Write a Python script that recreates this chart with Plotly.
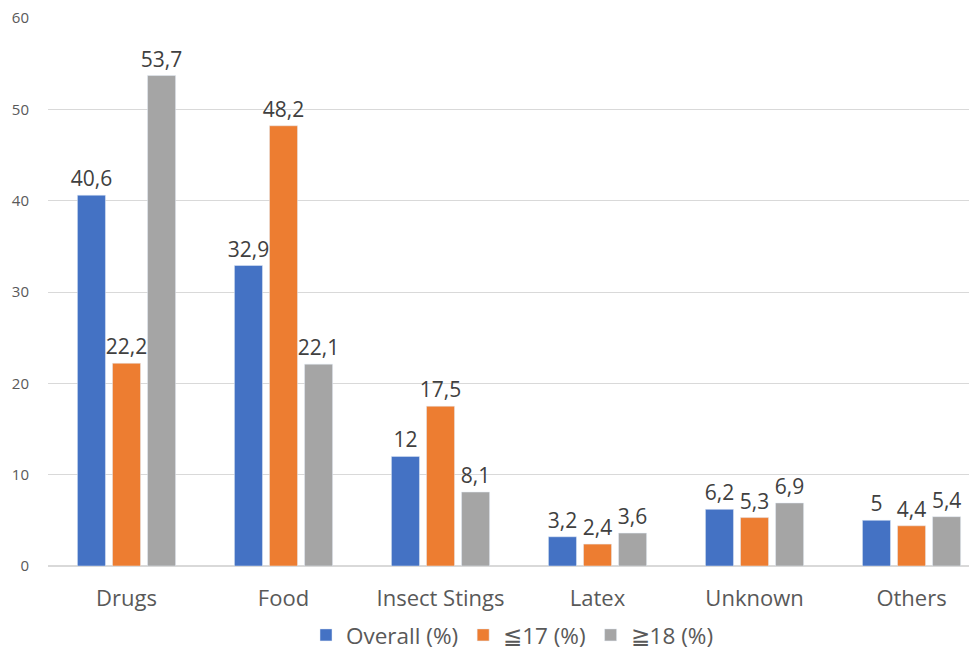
import plotly.graph_objects as go

categories = ["Drugs", "Food", "Insect Stings", "Latex", "Unknown", "Others"]
overall = [40.6, 32.9, 12, 3.2, 6.2, 5]
under17 = [22.2, 48.2, 17.5, 2.4, 5.3, 4.4]
over18 = [53.7, 22.1, 8.1, 3.6, 6.9, 5.4]
series_names = ["Overall (%)", "≦17 (%)", "≧18 (%)"]
colors = ["#4472C4", "#ED7D31", "#A5A5A5"]

def lab(v):
    return format(v, "g").replace(".", ",")

fig = go.Figure()
for name, vals, c in zip(series_names, [overall, under17, over18], colors):
    fig.add_trace(go.Bar(
        x=categories, y=vals, name=name, marker_color=c,
        text=[lab(v) for v in vals], textposition="outside",
        textfont=dict(size=21, color="#404040", family="Open Sans"),
        constraintext="none", cliponaxis=False,
    ))

fig.update_layout(
    width=977, height=650,
    margin=dict(l=40, r=8, t=10, b=92, autoexpand=False),
    paper_bgcolor="white", plot_bgcolor="white",
    barmode="group", bargap=0.33, bargroupgap=0.2,
    font=dict(family="Open Sans", color="#595959"),
    showlegend=True,
    legend=dict(orientation="h", x=0.5, xanchor="center", yref="container",
                y=0.035, yanchor="middle",
                font=dict(size=22.5, color="#595959"), itemwidth=30),
    xaxis=dict(range=[-0.5, 5.417], showgrid=False, showline=False, ticks="",
               automargin=False, ticklabelstandoff=17,
               tickfont=dict(size=22, color="#595959")),
    yaxis=dict(range=[0, 60], tickvals=[0, 10, 20, 30, 40, 50, 60],
               showgrid=True, gridcolor="#D9D9D9", gridwidth=1,
               zeroline=True, zerolinecolor="#D9D9D9", showline=False, automargin=False,
               ticklabeloverflow="allow",
               tickfont=dict(size=15, color="#595959"), ticklabelstandoff=18),
)

fig.write_html("out.html")
